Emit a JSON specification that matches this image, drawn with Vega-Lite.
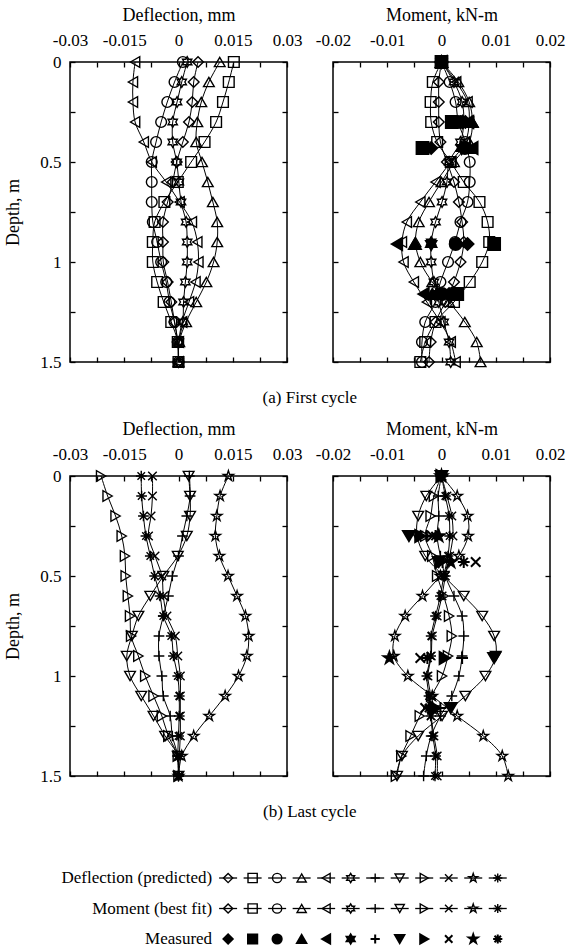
{
"$schema": "https://vega.github.io/schema/vega-lite/v6.json",
"padding": {"left": 4, "top": 5, "right": 2, "bottom": 1},
"background": "white",
"config": {
  "view": {"stroke": "black", "strokeWidth": 1.5},
  "font": "Liberation Serif, Times New Roman, Times, DejaVu Serif, serif",
  "text": {"font": "Liberation Serif, Times New Roman, Times, DejaVu Serif, serif"},
  "axis": {"domain": false, "grid": false, "tickSize": -5, "tickColor": "black", "tickWidth": 1.3, "labelFlush": false, "labelOverlap": false, "labelFont": "Liberation Serif, Times New Roman, Times, DejaVu Serif, serif", "titleFont": "Liberation Serif, Times New Roman, Times, DejaVu Serif, serif", "labelFontSize": 17, "titleFontSize": 18, "titleFontWeight": "normal", "labelColor": "black", "titleColor": "black"},
  "title": {"font": "Liberation Serif, Times New Roman, Times, DejaVu Serif, serif", "fontSize": 17, "fontWeight": "normal", "color": "black"}
},
"datasets": {
"defl1": [
{"s":"D","d":0,"v":0.0054},{"s":"D","d":0.1,"v":0.0042},{"s":"D","d":0.2,"v":0.0038},{"s":"D","d":0.3,"v":0.0029},{"s":"D","d":0.4,"v":0.0012},{"s":"D","d":0.5,"v":-0.0005},{"s":"D","d":0.6,"v":-0.0016},{"s":"D","d":0.7,"v":-0.003},{"s":"D","d":0.8,"v":-0.0043},{"s":"D","d":0.9,"v":-0.0043},{"s":"D","d":1,"v":-0.0042},{"s":"D","d":1.1,"v":-0.003},{"s":"D","d":1.2,"v":-0.002},{"s":"D","d":1.3,"v":-0.0011},{"s":"D","d":1.4,"v":-0.0002},{"s":"D","d":1.5,"v":0},
{"s":"S","d":0,"v":0.0153},{"s":"S","d":0.1,"v":0.0139},{"s":"S","d":0.2,"v":0.0123},{"s":"S","d":0.3,"v":0.0104},{"s":"S","d":0.4,"v":0.0072},{"s":"S","d":0.5,"v":0.0035},{"s":"S","d":0.6,"v":-0.0002},{"s":"S","d":0.7,"v":-0.0039},{"s":"S","d":0.8,"v":-0.0066},{"s":"S","d":0.9,"v":-0.0071},{"s":"S","d":1,"v":-0.0071},{"s":"S","d":1.1,"v":-0.0059},{"s":"S","d":1.2,"v":-0.0041},{"s":"S","d":1.3,"v":-0.002},{"s":"S","d":1.4,"v":-0.0002},{"s":"S","d":1.5,"v":0},
{"s":"C","d":0,"v":0.0012},{"s":"C","d":0.1,"v":-0.0011},{"s":"C","d":0.2,"v":-0.0031},{"s":"C","d":0.3,"v":-0.0048},{"s":"C","d":0.4,"v":-0.0062},{"s":"C","d":0.5,"v":-0.0074},{"s":"C","d":0.6,"v":-0.0074},{"s":"C","d":0.7,"v":-0.0074},{"s":"C","d":0.8,"v":-0.0071},{"s":"C","d":0.9,"v":-0.0059},{"s":"C","d":1,"v":-0.0048},{"s":"C","d":1.1,"v":-0.0034},{"s":"C","d":1.2,"v":-0.0025},{"s":"C","d":1.3,"v":-0.0011},{"s":"C","d":1.4,"v":-0.0002},{"s":"C","d":1.5,"v":0},
{"s":"T","d":0,"v":0.0114},{"s":"T","d":0.1,"v":0.0084},{"s":"T","d":0.2,"v":0.0063},{"s":"T","d":0.3,"v":0.0052},{"s":"T","d":0.4,"v":0.0049},{"s":"T","d":0.5,"v":0.0065},{"s":"T","d":0.6,"v":0.0081},{"s":"T","d":0.7,"v":0.0095},{"s":"T","d":0.8,"v":0.0107},{"s":"T","d":0.9,"v":0.0107},{"s":"T","d":1,"v":0.0097},{"s":"T","d":1.1,"v":0.0077},{"s":"T","d":1.2,"v":0.0049},{"s":"T","d":1.3,"v":0.0021},{"s":"T","d":1.4,"v":0.0002},{"s":"T","d":1.5,"v":0},
{"s":"L","d":0,"v":-0.012},{"s":"L","d":0.1,"v":-0.0126},{"s":"L","d":0.2,"v":-0.0126},{"s":"L","d":0.3,"v":-0.012},{"s":"L","d":0.4,"v":-0.0096},{"s":"L","d":0.5,"v":-0.0074},{"s":"L","d":0.6,"v":-0.0034},{"s":"L","d":0.7,"v":0.0003},{"s":"L","d":0.8,"v":0.0037},{"s":"L","d":0.9,"v":0.0052},{"s":"L","d":1,"v":0.0055},{"s":"L","d":1.1,"v":0.0047},{"s":"L","d":1.2,"v":0.0029},{"s":"L","d":1.3,"v":0.001},{"s":"L","d":1.4,"v":0.0001},{"s":"L","d":1.5,"v":0},
{"s":"H","d":0,"v":0.0024},{"s":"H","d":0.1,"v":0.0009},{"s":"H","d":0.2,"v":-0.0004},{"s":"H","d":0.3,"v":-0.0016},{"s":"H","d":0.4,"v":-0.0016},{"s":"H","d":0.5,"v":-0.0005},{"s":"H","d":0.6,"v":0.0001},{"s":"H","d":0.7,"v":0.0007},{"s":"H","d":0.8,"v":0.0021},{"s":"H","d":0.9,"v":0.0024},{"s":"H","d":1,"v":0.0024},{"s":"H","d":1.1,"v":0.0019},{"s":"H","d":1.2,"v":0.0014},{"s":"H","d":1.3,"v":0.0012},{"s":"H","d":1.4,"v":0.0001},{"s":"H","d":1.5,"v":0}
],
"mom1": [
{"s":"S","d":0,"v":0},{"s":"S","d":0.1,"v":-0.0016},{"s":"S","d":0.2,"v":-0.002},{"s":"S","d":0.3,"v":-0.0019},{"s":"S","d":0.4,"v":-0.0008},{"s":"S","d":0.5,"v":0.0017},{"s":"S","d":0.6,"v":0.0041},{"s":"S","d":0.7,"v":0.007},{"s":"S","d":0.8,"v":0.0085},{"s":"S","d":0.9,"v":0.0088},{"s":"S","d":1,"v":0.0075},{"s":"S","d":1.1,"v":0.0052},{"s":"S","d":1.2,"v":0.0023},{"s":"S","d":1.3,"v":-0.0011},{"s":"S","d":1.4,"v":-0.003},{"s":"S","d":1.5,"v":-0.0039},
{"s":"D","d":0,"v":0},{"s":"D","d":0.1,"v":-0.0005},{"s":"D","d":0.2,"v":-0.0005},{"s":"D","d":0.3,"v":-0.0005},{"s":"D","d":0.4,"v":-0.0002},{"s":"D","d":0.5,"v":0.001},{"s":"D","d":0.6,"v":0.0023},{"s":"D","d":0.7,"v":0.0032},{"s":"D","d":0.8,"v":0.0038},{"s":"D","d":0.9,"v":0.0041},{"s":"D","d":1,"v":0.0035},{"s":"D","d":1.1,"v":0.0023},{"s":"D","d":1.2,"v":0.0007},{"s":"D","d":1.3,"v":-0.0011},{"s":"D","d":1.4,"v":-0.002},{"s":"D","d":1.5,"v":-0.0023},
{"s":"C","d":0,"v":0},{"s":"C","d":0.1,"v":0.0015},{"s":"C","d":0.2,"v":0.0026},{"s":"C","d":0.3,"v":0.0031},{"s":"C","d":0.4,"v":0.0044},{"s":"C","d":0.5,"v":0.0052},{"s":"C","d":0.6,"v":0.0052},{"s":"C","d":0.7,"v":0.0048},{"s":"C","d":0.8,"v":0.0035},{"s":"C","d":0.9,"v":0.0025},{"s":"C","d":1,"v":0.0012},{"s":"C","d":1.1,"v":-0.0002},{"s":"C","d":1.2,"v":-0.0011},{"s":"C","d":1.3,"v":-0.003},{"s":"C","d":1.4,"v":-0.0036},{"s":"C","d":1.5,"v":-0.0036},
{"s":"T","d":0,"v":0},{"s":"T","d":0.1,"v":0.0031},{"s":"T","d":0.2,"v":0.0051},{"s":"T","d":0.3,"v":0.0057},{"s":"T","d":0.4,"v":0.0051},{"s":"T","d":0.5,"v":0.0023},{"s":"T","d":0.6,"v":0},{"s":"T","d":0.7,"v":-0.0023},{"s":"T","d":0.8,"v":-0.0042},{"s":"T","d":0.9,"v":-0.0048},{"s":"T","d":1,"v":-0.0039},{"s":"T","d":1.1,"v":-0.0017},{"s":"T","d":1.2,"v":0.0014},{"s":"T","d":1.3,"v":0.0043},{"s":"T","d":1.4,"v":0.0065},{"s":"T","d":1.5,"v":0.0072},
{"s":"L","d":0,"v":0},{"s":"L","d":0.1,"v":0.0027},{"s":"L","d":0.2,"v":0.0048},{"s":"L","d":0.3,"v":0.0051},{"s":"L","d":0.4,"v":0.0044},{"s":"L","d":0.5,"v":0.0017},{"s":"L","d":0.6,"v":-0.0011},{"s":"L","d":0.7,"v":-0.0039},{"s":"L","d":0.8,"v":-0.0064},{"s":"L","d":0.9,"v":-0.0073},{"s":"L","d":1,"v":-0.007},{"s":"L","d":1.1,"v":-0.0051},{"s":"L","d":1.2,"v":-0.0027},{"s":"L","d":1.3,"v":-0.0002},{"s":"L","d":1.4,"v":0.0017},{"s":"L","d":1.5,"v":0.0026},
{"s":"H","d":0,"v":0},{"s":"H","d":0.1,"v":0.0023},{"s":"H","d":0.2,"v":0.0038},{"s":"H","d":0.3,"v":0.0041},{"s":"H","d":0.4,"v":0.0035},{"s":"H","d":0.5,"v":0.0014},{"s":"H","d":0.6,"v":0.001},{"s":"H","d":0.7,"v":0.0001},{"s":"H","d":0.8,"v":-0.0011},{"s":"H","d":0.9,"v":-0.0019},{"s":"H","d":1,"v":-0.0019},{"s":"H","d":1.1,"v":-0.0014},{"s":"H","d":1.2,"v":-0.0005},{"s":"H","d":1.3,"v":0.0004},{"s":"H","d":1.4,"v":0.0014},{"s":"H","d":1.5,"v":0.0017}
],
"meas1": [
{"s":"S","d":0,"v":0},{"s":"S","d":0.3,"v":0.0019},{"s":"S","d":0.43,"v":-0.0035},{"s":"S","d":0.91,"v":0.0097},{"s":"S","d":1.16,"v":0.0029},
{"s":"D","d":0,"v":0},{"s":"D","d":0.3,"v":0.0044},{"s":"D","d":0.43,"v":-0.0019},{"s":"D","d":0.91,"v":0.0048},{"s":"D","d":1.16,"v":0.0014},
{"s":"C","d":0,"v":0},{"s":"C","d":0.3,"v":0.0035},{"s":"C","d":0.43,"v":0.0043},{"s":"C","d":0.91,"v":0.0026},{"s":"C","d":1.16,"v":0.0001},
{"s":"T","d":0,"v":0},{"s":"T","d":0.3,"v":0.0056},{"s":"T","d":0.43,"v":0.0052},{"s":"T","d":0.91,"v":-0.0049},{"s":"T","d":1.16,"v":-0.0017},
{"s":"L","d":0,"v":0},{"s":"L","d":0.3,"v":0.0049},{"s":"L","d":0.43,"v":0.0057},{"s":"L","d":0.91,"v":-0.0082},{"s":"L","d":1.16,"v":-0.0033},
{"s":"H","d":0,"v":0},{"s":"H","d":0.3,"v":0.0039},{"s":"H","d":0.43,"v":0.0037},{"s":"H","d":0.91,"v":-0.0019},{"s":"H","d":1.16,"v":-0.0008}
],
"defl2": [
{"s":"P","d":0,"v":0.003},{"s":"P","d":0.1,"v":0.0032},{"s":"P","d":0.2,"v":0.0023},{"s":"P","d":0.3,"v":0.0011},{"s":"P","d":0.4,"v":0},{"s":"P","d":0.5,"v":-0.0017},{"s":"P","d":0.6,"v":-0.0028},{"s":"P","d":0.7,"v":-0.0042},{"s":"P","d":0.8,"v":-0.0054},{"s":"P","d":0.9,"v":-0.0054},{"s":"P","d":1,"v":-0.0046},{"s":"P","d":1.1,"v":-0.0042},{"s":"P","d":1.2,"v":-0.0023},{"s":"P","d":1.3,"v":-0.0017},{"s":"P","d":1.4,"v":-0.0002},{"s":"P","d":1.5,"v":0},
{"s":"V","d":0,"v":0.0028},{"s":"V","d":0.1,"v":0.0032},{"s":"V","d":0.2,"v":0.0032},{"s":"V","d":0.3,"v":0.0023},{"s":"V","d":0.4,"v":-0.0002},{"s":"V","d":0.5,"v":-0.0042},{"s":"V","d":0.6,"v":-0.0078},{"s":"V","d":0.7,"v":-0.0111},{"s":"V","d":0.8,"v":-0.0129},{"s":"V","d":0.9,"v":-0.0143},{"s":"V","d":1,"v":-0.0134},{"s":"V","d":1.1,"v":-0.0103},{"s":"V","d":1.2,"v":-0.0069},{"s":"V","d":1.3,"v":-0.0037},{"s":"V","d":1.4,"v":-0.0002},{"s":"V","d":1.5,"v":0},
{"s":"R","d":0,"v":-0.0214},{"s":"R","d":0.1,"v":-0.0196},{"s":"R","d":0.2,"v":-0.0174},{"s":"R","d":0.3,"v":-0.0157},{"s":"R","d":0.4,"v":-0.0148},{"s":"R","d":0.5,"v":-0.0146},{"s":"R","d":0.6,"v":-0.014},{"s":"R","d":0.7,"v":-0.0134},{"s":"R","d":0.8,"v":-0.0131},{"s":"R","d":0.9,"v":-0.0111},{"s":"R","d":1,"v":-0.0092},{"s":"R","d":1.1,"v":-0.0069},{"s":"R","d":1.2,"v":-0.0046},{"s":"R","d":1.3,"v":-0.0028},{"s":"R","d":1.4,"v":-0.0002},{"s":"R","d":1.5,"v":0},
{"s":"X","d":0,"v":-0.0072},{"s":"X","d":0.1,"v":-0.0072},{"s":"X","d":0.2,"v":-0.0076},{"s":"X","d":0.3,"v":-0.0083},{"s":"X","d":0.4,"v":-0.0065},{"s":"X","d":0.5,"v":-0.0046},{"s":"X","d":0.6,"v":-0.0042},{"s":"X","d":0.7,"v":-0.0032},{"s":"X","d":0.8,"v":-0.0009},{"s":"X","d":0.9,"v":-0.0002},{"s":"X","d":1,"v":0.0005},{"s":"X","d":1.1,"v":0.0005},{"s":"X","d":1.2,"v":0.0005},{"s":"X","d":1.3,"v":0.0005},{"s":"X","d":1.4,"v":0.0002},{"s":"X","d":1.5,"v":0},
{"s":"A","d":0,"v":-0.0103},{"s":"A","d":0.1,"v":-0.0102},{"s":"A","d":0.2,"v":-0.0097},{"s":"A","d":0.3,"v":-0.009},{"s":"A","d":0.4,"v":-0.0078},{"s":"A","d":0.5,"v":-0.0066},{"s":"A","d":0.6,"v":-0.0051},{"s":"A","d":0.7,"v":-0.0042},{"s":"A","d":0.8,"v":-0.002},{"s":"A","d":0.9,"v":-0.0014},{"s":"A","d":1,"v":-0.0002},{"s":"A","d":1.1,"v":0.0002},{"s":"A","d":1.2,"v":0.0002},{"s":"A","d":1.3,"v":0},{"s":"A","d":1.4,"v":-0.0002},{"s":"A","d":1.5,"v":0},
{"s":"St","d":0,"v":0.0138},{"s":"St","d":0.1,"v":0.0115},{"s":"St","d":0.2,"v":0.0106},{"s":"St","d":0.3,"v":0.0102},{"s":"St","d":0.4,"v":0.0113},{"s":"St","d":0.5,"v":0.0137},{"s":"St","d":0.6,"v":0.0162},{"s":"St","d":0.7,"v":0.0185},{"s":"St","d":0.8,"v":0.0194},{"s":"St","d":0.9,"v":0.0189},{"s":"St","d":1,"v":0.0166},{"s":"St","d":1.1,"v":0.0129},{"s":"St","d":1.2,"v":0.0085},{"s":"St","d":1.3,"v":0.0042},{"s":"St","d":1.4,"v":0.0009},{"s":"St","d":1.5,"v":0}
],
"mom2": [
{"s":"P","d":0,"v":0},{"s":"P","d":0.1,"v":-0.0006},{"s":"P","d":0.2,"v":-0.0005},{"s":"P","d":0.3,"v":-0.0008},{"s":"P","d":0.4,"v":-0.0002},{"s":"P","d":0.5,"v":0.0007},{"s":"P","d":0.6,"v":0.0023},{"s":"P","d":0.7,"v":0.0038},{"s":"P","d":0.8,"v":0.0041},{"s":"P","d":0.9,"v":0.0038},{"s":"P","d":1,"v":0.0032},{"s":"P","d":1.1,"v":0.0019},{"s":"P","d":1.2,"v":-0.0002},{"s":"P","d":1.3,"v":-0.0019},{"s":"P","d":1.4,"v":-0.0028},{"s":"P","d":1.5,"v":-0.0033},
{"s":"V","d":0,"v":0},{"s":"V","d":0.1,"v":-0.0028},{"s":"V","d":0.2,"v":-0.0043},{"s":"V","d":0.3,"v":-0.0045},{"s":"V","d":0.4,"v":-0.003},{"s":"V","d":0.5,"v":0.0004},{"s":"V","d":0.6,"v":0.0041},{"s":"V","d":0.7,"v":0.0075},{"s":"V","d":0.8,"v":0.0097},{"s":"V","d":0.9,"v":0.01},{"s":"V","d":1,"v":0.0081},{"s":"V","d":1.1,"v":0.0044},{"s":"V","d":1.2,"v":0.0001},{"s":"V","d":1.3,"v":-0.0043},{"s":"V","d":1.4,"v":-0.0073},{"s":"V","d":1.5,"v":-0.0082},
{"s":"R","d":0,"v":0},{"s":"R","d":0.1,"v":-0.0014},{"s":"R","d":0.2,"v":-0.002},{"s":"R","d":0.3,"v":-0.003},{"s":"R","d":0.4,"v":-0.0017},{"s":"R","d":0.5,"v":-0.0008},{"s":"R","d":0.6,"v":0.0004},{"s":"R","d":0.7,"v":0.0014},{"s":"R","d":0.8,"v":0.0019},{"s":"R","d":0.9,"v":0.0012},{"s":"R","d":1,"v":0.0001},{"s":"R","d":1.1,"v":-0.0019},{"s":"R","d":1.2,"v":-0.004},{"s":"R","d":1.3,"v":-0.0057},{"s":"R","d":1.4,"v":-0.0074},{"s":"R","d":1.5,"v":-0.0084},
{"s":"X","d":0,"v":0},{"s":"X","d":0.1,"v":0.001},{"s":"X","d":0.2,"v":0.0019},{"s":"X","d":0.3,"v":0.0021},{"s":"X","d":0.4,"v":0.0015},{"s":"X","d":0.5,"v":0.0007},{"s":"X","d":0.6,"v":0.0001},{"s":"X","d":0.7,"v":-0.0008},{"s":"X","d":0.8,"v":-0.0017},{"s":"X","d":0.9,"v":-0.0019},{"s":"X","d":1,"v":-0.0025},{"s":"X","d":1.1,"v":-0.002},{"s":"X","d":1.2,"v":-0.0019},{"s":"X","d":1.3,"v":-0.0014},{"s":"X","d":1.4,"v":-0.0008},{"s":"X","d":1.5,"v":-0.0008},
{"s":"A","d":0,"v":0},{"s":"A","d":0.1,"v":0.0007},{"s":"A","d":0.2,"v":0.0014},{"s":"A","d":0.3,"v":0.0015},{"s":"A","d":0.4,"v":0.0012},{"s":"A","d":0.5,"v":0.0004},{"s":"A","d":0.6,"v":-0.0002},{"s":"A","d":0.7,"v":-0.0011},{"s":"A","d":0.8,"v":-0.0019},{"s":"A","d":0.9,"v":-0.002},{"s":"A","d":1,"v":-0.0027},{"s":"A","d":1.1,"v":-0.0023},{"s":"A","d":1.2,"v":-0.002},{"s":"A","d":1.3,"v":-0.0016},{"s":"A","d":1.4,"v":-0.0011},{"s":"A","d":1.5,"v":-0.0012},
{"s":"St","d":0,"v":0},{"s":"St","d":0.1,"v":0.0029},{"s":"St","d":0.2,"v":0.0048},{"s":"St","d":0.3,"v":0.0049},{"s":"St","d":0.4,"v":0.0032},{"s":"St","d":0.5,"v":-0.0002},{"s":"St","d":0.6,"v":-0.0035},{"s":"St","d":0.7,"v":-0.0067},{"s":"St","d":0.8,"v":-0.0086},{"s":"St","d":0.9,"v":-0.0088},{"s":"St","d":1,"v":-0.0062},{"s":"St","d":1.1,"v":-0.0017},{"s":"St","d":1.2,"v":0.0029},{"s":"St","d":1.3,"v":0.0077},{"s":"St","d":1.4,"v":0.0112},{"s":"St","d":1.5,"v":0.0123}
],
"meas2": [
{"s":"V","d":0,"v":0},{"s":"V","d":0.3,"v":-0.006},{"s":"V","d":0.43,"v":-0.0005},{"s":"V","d":0.91,"v":0.0097},{"s":"V","d":1.16,"v":0.0017},
{"s":"R","d":0,"v":0},{"s":"R","d":0.3,"v":-0.0039},{"s":"R","d":0.43,"v":-0.0002},{"s":"R","d":0.91,"v":0.0006},{"s":"R","d":1.16,"v":-0.0011},
{"s":"P","d":0,"v":0},{"s":"P","d":0.3,"v":-0.0027},{"s":"P","d":0.43,"v":0.0002},{"s":"P","d":0.91,"v":0.0038},{"s":"P","d":1.16,"v":-0.0002},
{"s":"X","d":0,"v":0},{"s":"X","d":0.3,"v":-0.0017},{"s":"X","d":0.43,"v":0.0063},{"s":"X","d":0.91,"v":-0.0039},{"s":"X","d":1.16,"v":-0.003},
{"s":"A","d":0,"v":0},{"s":"A","d":0.3,"v":-0.0011},{"s":"A","d":0.43,"v":0.0041},{"s":"A","d":0.91,"v":-0.0026},{"s":"A","d":1.16,"v":-0.0023},
{"s":"St","d":0,"v":0},{"s":"St","d":0.3,"v":-0.0005},{"s":"St","d":0.43,"v":0.0017},{"s":"St","d":0.91,"v":-0.0096},{"s":"St","d":1.16,"v":-0.0017}
],
"legend": [
{"row":"Deflection (predicted)","s":"D"},{"row":"Deflection (predicted)","s":"S"},{"row":"Deflection (predicted)","s":"C"},{"row":"Deflection (predicted)","s":"T"},{"row":"Deflection (predicted)","s":"L"},{"row":"Deflection (predicted)","s":"H"},{"row":"Deflection (predicted)","s":"P"},{"row":"Deflection (predicted)","s":"V"},{"row":"Deflection (predicted)","s":"R"},{"row":"Deflection (predicted)","s":"X"},{"row":"Deflection (predicted)","s":"St"},{"row":"Deflection (predicted)","s":"A"},
{"row":"Moment (best fit)","s":"D"},{"row":"Moment (best fit)","s":"S"},{"row":"Moment (best fit)","s":"C"},{"row":"Moment (best fit)","s":"T"},{"row":"Moment (best fit)","s":"L"},{"row":"Moment (best fit)","s":"H"},{"row":"Moment (best fit)","s":"P"},{"row":"Moment (best fit)","s":"V"},{"row":"Moment (best fit)","s":"R"},{"row":"Moment (best fit)","s":"X"},{"row":"Moment (best fit)","s":"St"},{"row":"Moment (best fit)","s":"A"},
{"row":"Measured","s":"D"},{"row":"Measured","s":"S"},{"row":"Measured","s":"C"},{"row":"Measured","s":"T"},{"row":"Measured","s":"L"},{"row":"Measured","s":"H"},{"row":"Measured","s":"P"},{"row":"Measured","s":"V"},{"row":"Measured","s":"R"},{"row":"Measured","s":"X"},{"row":"Measured","s":"St"},{"row":"Measured","s":"A"}
]
},
"spacing": 13,
"vconcat": [
{
 "bounds": "flush",
 "spacing": 46,
 "title": {"text": "(a) First cycle", "orient": "bottom", "anchor": "middle", "frame": "bounds", "offset": 19, "dx": 25},
 "hconcat": [
  {
   "width": 217, "height": 300,
   "layer": [
    {"mark": {"type": "rule", "strokeDash": [9, 6], "color": "#444", "strokeWidth": 1.2}, "encoding": {"y": {"datum": 0.3, "type": "quantitative", "scale": {"domain": [0, 1.5], "reverse": true, "nice": false, "zero": false}, "axis": null}}},
    {"data": {"name": "defl1"}, "mark": {"type": "line", "color": "black", "strokeWidth": 1, "interpolate": "catmull-rom"},
     "encoding": {
      "x": {"field": "v", "type": "quantitative", "scale": {"domain": [-0.03, 0.03], "nice": false, "zero": false}, "axis": {"orient": "top", "title": "Deflection, mm", "values": [-0.03, -0.0225, -0.015, -0.0075, 0, 0.0075, 0.015, 0.0225, 0.03], "labelExpr": "indexof([-0.03, -0.015, 0, 0.015, 0.03], datum.value) >= 0 ? toString(datum.value) : ''", "labelPadding": 18, "titlePadding": 7}},
      "y": {"field": "d", "type": "quantitative", "scale": {"domain": [0, 1.5], "reverse": true, "nice": false, "zero": false}, "axis": {"orient": "left", "title": "Depth, m", "values": [0, 0.25, 0.5, 0.75, 1, 1.25, 1.5], "labelExpr": "indexof([0, 0.5, 1, 1.5], datum.value) >= 0 ? toString(datum.value) : ''", "labelPadding": 14, "titlePadding": 17}},
      "detail": {"field": "s"},
      "order": {"field": "d"}}},
    {"data": {"name": "defl1"}, "mark": {"type": "point", "filled": false, "color": "black", "strokeWidth": 1.4, "size": 115, "opacity": 1},
     "encoding": {
      "x": {"field": "v", "type": "quantitative", "scale": {"domain": [-0.03, 0.03], "nice": false, "zero": false}, "axis": {"orient": "bottom", "title": null, "labels": false, "values": [-0.03, -0.0225, -0.015, -0.0075, 0, 0.0075, 0.015, 0.0225, 0.03]}},
      "y": {"field": "d", "type": "quantitative", "scale": {"domain": [0, 1.5], "reverse": true, "nice": false, "zero": false}, "axis": {"orient": "right", "title": null, "labels": false, "values": [0, 0.25, 0.5, 0.75, 1, 1.25, 1.5]}},
      "shape": {"field": "s", "type": "nominal", "legend": null, "scale": {"domain": ["D","S","C","T","L","H","P","V","R","X","St","A"], "range": ["diamond","square","circle","triangle-up","triangle-left","M0,-1L0.289,-0.5L0.866,-0.5L0.577,0L0.866,0.5L0.289,0.5L0,1L-0.289,0.5L-0.866,0.5L-0.577,0L-0.866,-0.5L-0.289,-0.5Z","M-1,0L1,0M0,-1L0,1","triangle-down","triangle-right","M-0.8,-0.8L0.8,0.8M-0.8,0.8L0.8,-0.8","M0,-1L0.2245,-0.309L0.951,-0.309L0.363,0.118L0.588,0.809L0,0.382L-0.588,0.809L-0.363,0.118L-0.951,-0.309L-0.2245,-0.309Z","M0,-1L0,1M-1,0L1,0M-0.7,-0.7L0.7,0.7M-0.7,0.7L0.7,-0.7"]}}}},
    {"mark": {"type": "text", "align": "left", "baseline": "middle", "dx": 6, "dy": 1, "fontSize": 15, "lineHeight": 16.5, "color": "black"},
     "encoding": {"x": {"datum": -0.03, "type": "quantitative", "scale": {"domain": [-0.03, 0.03], "nice": false, "zero": false}, "axis": null}, "y": {"datum": 0.3, "type": "quantitative", "scale": {"domain": [0, 1.5], "reverse": true, "nice": false, "zero": false}, "axis": null}, "text": {"value": ["Sand", "Layer"]}}}
   ],
   "resolve": {"axis": {"x": "independent", "y": "independent"}}
  },
  {
   "width": 217, "height": 300,
   "layer": [
    {"mark": {"type": "rule", "strokeDash": [9, 6], "color": "#444", "strokeWidth": 1.2}, "encoding": {"y": {"datum": 0.3, "type": "quantitative", "scale": {"domain": [0, 1.5], "reverse": true, "nice": false, "zero": false}, "axis": null}}},
    {"data": {"name": "mom1"}, "mark": {"type": "line", "color": "black", "strokeWidth": 1, "interpolate": "catmull-rom"},
     "encoding": {
      "x": {"field": "v", "type": "quantitative", "scale": {"domain": [-0.02, 0.02], "nice": false, "zero": false}, "axis": {"orient": "top", "title": "Moment, kN-m", "values": [-0.02, -0.015, -0.01, -0.005, 0, 0.005, 0.01, 0.015, 0.02], "labelExpr": "indexof([-0.02, -0.01, 0, 0.01, 0.02], datum.value) >= 0 ? toString(datum.value) : ''", "labelPadding": 18, "titlePadding": 7}},
      "y": {"field": "d", "type": "quantitative", "scale": {"domain": [0, 1.5], "reverse": true, "nice": false, "zero": false}, "axis": {"orient": "left", "title": null, "labels": false, "values": [0, 0.25, 0.5, 0.75, 1, 1.25, 1.5]}},
      "detail": {"field": "s"},
      "order": {"field": "d"}}},
    {"data": {"name": "mom1"}, "mark": {"type": "point", "filled": false, "color": "black", "strokeWidth": 1.4, "size": 115, "opacity": 1},
     "encoding": {
      "x": {"field": "v", "type": "quantitative", "scale": {"domain": [-0.02, 0.02], "nice": false, "zero": false}, "axis": {"orient": "bottom", "title": null, "labels": false, "values": [-0.02, -0.015, -0.01, -0.005, 0, 0.005, 0.01, 0.015, 0.02]}},
      "y": {"field": "d", "type": "quantitative", "scale": {"domain": [0, 1.5], "reverse": true, "nice": false, "zero": false}, "axis": {"orient": "right", "title": null, "labels": false, "values": [0, 0.25, 0.5, 0.75, 1, 1.25, 1.5]}},
      "shape": {"field": "s", "type": "nominal", "legend": null, "scale": {"domain": ["D","S","C","T","L","H","P","V","R","X","St","A"], "range": ["diamond","square","circle","triangle-up","triangle-left","M0,-1L0.289,-0.5L0.866,-0.5L0.577,0L0.866,0.5L0.289,0.5L0,1L-0.289,0.5L-0.866,0.5L-0.577,0L-0.866,-0.5L-0.289,-0.5Z","M-1,0L1,0M0,-1L0,1","triangle-down","triangle-right","M-0.8,-0.8L0.8,0.8M-0.8,0.8L0.8,-0.8","M0,-1L0.2245,-0.309L0.951,-0.309L0.363,0.118L0.588,0.809L0,0.382L-0.588,0.809L-0.363,0.118L-0.951,-0.309L-0.2245,-0.309Z","M0,-1L0,1M-1,0L1,0M-0.7,-0.7L0.7,0.7M-0.7,0.7L0.7,-0.7"]}}}},
    {"data": {"name": "meas1"}, "mark": {"type": "point", "filled": true, "fill": "black", "stroke": "black", "strokeWidth": 2, "size": 140, "opacity": 1},
     "encoding": {
      "x": {"field": "v", "type": "quantitative", "scale": {"domain": [-0.02, 0.02], "nice": false, "zero": false}, "axis": null},
      "y": {"field": "d", "type": "quantitative", "scale": {"domain": [0, 1.5], "reverse": true, "nice": false, "zero": false}, "axis": null},
      "shape": {"field": "s", "type": "nominal", "legend": null, "scale": {"domain": ["D","S","C","T","L","H","P","V","R","X","St","A"], "range": ["diamond","square","circle","triangle-up","triangle-left","M0,-1L0.289,-0.5L0.866,-0.5L0.577,0L0.866,0.5L0.289,0.5L0,1L-0.289,0.5L-0.866,0.5L-0.577,0L-0.866,-0.5L-0.289,-0.5Z","M-1,0L1,0M0,-1L0,1","triangle-down","triangle-right","M-0.8,-0.8L0.8,0.8M-0.8,0.8L0.8,-0.8","M0,-1L0.2245,-0.309L0.951,-0.309L0.363,0.118L0.588,0.809L0,0.382L-0.588,0.809L-0.363,0.118L-0.951,-0.309L-0.2245,-0.309Z","M0,-1L0,1M-1,0L1,0M-0.7,-0.7L0.7,0.7M-0.7,0.7L0.7,-0.7"]}}}}
   ],
   "resolve": {"axis": {"x": "independent", "y": "independent"}}
  }
 ]
},
{
 "bounds": "flush",
 "spacing": 46,
 "title": {"text": "(b) Last cycle", "orient": "bottom", "anchor": "middle", "frame": "bounds", "offset": 19, "dx": 25},
 "hconcat": [
  {
   "width": 217, "height": 300,
   "layer": [
    {"mark": {"type": "rule", "strokeDash": [9, 6], "color": "#444", "strokeWidth": 1.2}, "encoding": {"y": {"datum": 0.3, "type": "quantitative", "scale": {"domain": [0, 1.5], "reverse": true, "nice": false, "zero": false}, "axis": null}}},
    {"data": {"name": "defl2"}, "mark": {"type": "line", "color": "black", "strokeWidth": 1, "interpolate": "catmull-rom"},
     "encoding": {
      "x": {"field": "v", "type": "quantitative", "scale": {"domain": [-0.03, 0.03], "nice": false, "zero": false}, "axis": {"orient": "top", "title": "Deflection, mm", "values": [-0.03, -0.0225, -0.015, -0.0075, 0, 0.0075, 0.015, 0.0225, 0.03], "labelExpr": "indexof([-0.03, -0.015, 0, 0.015, 0.03], datum.value) >= 0 ? toString(datum.value) : ''", "labelPadding": 18, "titlePadding": 7}},
      "y": {"field": "d", "type": "quantitative", "scale": {"domain": [0, 1.5], "reverse": true, "nice": false, "zero": false}, "axis": {"orient": "left", "title": "Depth, m", "values": [0, 0.25, 0.5, 0.75, 1, 1.25, 1.5], "labelExpr": "indexof([0, 0.5, 1, 1.5], datum.value) >= 0 ? toString(datum.value) : ''", "labelPadding": 14, "titlePadding": 17}},
      "detail": {"field": "s"},
      "order": {"field": "d"}}},
    {"data": {"name": "defl2"}, "mark": {"type": "point", "filled": false, "color": "black", "strokeWidth": 1.4, "size": 115, "opacity": 1},
     "encoding": {
      "x": {"field": "v", "type": "quantitative", "scale": {"domain": [-0.03, 0.03], "nice": false, "zero": false}, "axis": {"orient": "bottom", "title": null, "labels": false, "values": [-0.03, -0.0225, -0.015, -0.0075, 0, 0.0075, 0.015, 0.0225, 0.03]}},
      "y": {"field": "d", "type": "quantitative", "scale": {"domain": [0, 1.5], "reverse": true, "nice": false, "zero": false}, "axis": {"orient": "right", "title": null, "labels": false, "values": [0, 0.25, 0.5, 0.75, 1, 1.25, 1.5]}},
      "shape": {"field": "s", "type": "nominal", "legend": null, "scale": {"domain": ["D","S","C","T","L","H","P","V","R","X","St","A"], "range": ["diamond","square","circle","triangle-up","triangle-left","M0,-1L0.289,-0.5L0.866,-0.5L0.577,0L0.866,0.5L0.289,0.5L0,1L-0.289,0.5L-0.866,0.5L-0.577,0L-0.866,-0.5L-0.289,-0.5Z","M-1,0L1,0M0,-1L0,1","triangle-down","triangle-right","M-0.8,-0.8L0.8,0.8M-0.8,0.8L0.8,-0.8","M0,-1L0.2245,-0.309L0.951,-0.309L0.363,0.118L0.588,0.809L0,0.382L-0.588,0.809L-0.363,0.118L-0.951,-0.309L-0.2245,-0.309Z","M0,-1L0,1M-1,0L1,0M-0.7,-0.7L0.7,0.7M-0.7,0.7L0.7,-0.7"]}}}},
    {"mark": {"type": "text", "align": "left", "baseline": "middle", "dx": 6, "dy": 1, "fontSize": 15, "lineHeight": 16.5, "color": "black"},
     "encoding": {"x": {"datum": -0.03, "type": "quantitative", "scale": {"domain": [-0.03, 0.03], "nice": false, "zero": false}, "axis": null}, "y": {"datum": 0.3, "type": "quantitative", "scale": {"domain": [0, 1.5], "reverse": true, "nice": false, "zero": false}, "axis": null}, "text": {"value": ["Sand", "Layer"]}}}
   ],
   "resolve": {"axis": {"x": "independent", "y": "independent"}}
  },
  {
   "width": 217, "height": 300,
   "layer": [
    {"mark": {"type": "rule", "strokeDash": [9, 6], "color": "#444", "strokeWidth": 1.2}, "encoding": {"y": {"datum": 0.3, "type": "quantitative", "scale": {"domain": [0, 1.5], "reverse": true, "nice": false, "zero": false}, "axis": null}}},
    {"data": {"name": "mom2"}, "mark": {"type": "line", "color": "black", "strokeWidth": 1, "interpolate": "catmull-rom"},
     "encoding": {
      "x": {"field": "v", "type": "quantitative", "scale": {"domain": [-0.02, 0.02], "nice": false, "zero": false}, "axis": {"orient": "top", "title": "Moment, kN-m", "values": [-0.02, -0.015, -0.01, -0.005, 0, 0.005, 0.01, 0.015, 0.02], "labelExpr": "indexof([-0.02, -0.01, 0, 0.01, 0.02], datum.value) >= 0 ? toString(datum.value) : ''", "labelPadding": 18, "titlePadding": 7}},
      "y": {"field": "d", "type": "quantitative", "scale": {"domain": [0, 1.5], "reverse": true, "nice": false, "zero": false}, "axis": {"orient": "left", "title": null, "labels": false, "values": [0, 0.25, 0.5, 0.75, 1, 1.25, 1.5]}},
      "detail": {"field": "s"},
      "order": {"field": "d"}}},
    {"data": {"name": "mom2"}, "mark": {"type": "point", "filled": false, "color": "black", "strokeWidth": 1.4, "size": 115, "opacity": 1},
     "encoding": {
      "x": {"field": "v", "type": "quantitative", "scale": {"domain": [-0.02, 0.02], "nice": false, "zero": false}, "axis": {"orient": "bottom", "title": null, "labels": false, "values": [-0.02, -0.015, -0.01, -0.005, 0, 0.005, 0.01, 0.015, 0.02]}},
      "y": {"field": "d", "type": "quantitative", "scale": {"domain": [0, 1.5], "reverse": true, "nice": false, "zero": false}, "axis": {"orient": "right", "title": null, "labels": false, "values": [0, 0.25, 0.5, 0.75, 1, 1.25, 1.5]}},
      "shape": {"field": "s", "type": "nominal", "legend": null, "scale": {"domain": ["D","S","C","T","L","H","P","V","R","X","St","A"], "range": ["diamond","square","circle","triangle-up","triangle-left","M0,-1L0.289,-0.5L0.866,-0.5L0.577,0L0.866,0.5L0.289,0.5L0,1L-0.289,0.5L-0.866,0.5L-0.577,0L-0.866,-0.5L-0.289,-0.5Z","M-1,0L1,0M0,-1L0,1","triangle-down","triangle-right","M-0.8,-0.8L0.8,0.8M-0.8,0.8L0.8,-0.8","M0,-1L0.2245,-0.309L0.951,-0.309L0.363,0.118L0.588,0.809L0,0.382L-0.588,0.809L-0.363,0.118L-0.951,-0.309L-0.2245,-0.309Z","M0,-1L0,1M-1,0L1,0M-0.7,-0.7L0.7,0.7M-0.7,0.7L0.7,-0.7"]}}}},
    {"data": {"name": "meas2"}, "mark": {"type": "point", "filled": true, "fill": "black", "stroke": "black", "strokeWidth": 2, "size": 140, "opacity": 1},
     "encoding": {
      "x": {"field": "v", "type": "quantitative", "scale": {"domain": [-0.02, 0.02], "nice": false, "zero": false}, "axis": null},
      "y": {"field": "d", "type": "quantitative", "scale": {"domain": [0, 1.5], "reverse": true, "nice": false, "zero": false}, "axis": null},
      "shape": {"field": "s", "type": "nominal", "legend": null, "scale": {"domain": ["D","S","C","T","L","H","P","V","R","X","St","A"], "range": ["diamond","square","circle","triangle-up","triangle-left","M0,-1L0.289,-0.5L0.866,-0.5L0.577,0L0.866,0.5L0.289,0.5L0,1L-0.289,0.5L-0.866,0.5L-0.577,0L-0.866,-0.5L-0.289,-0.5Z","M-1,0L1,0M0,-1L0,1","triangle-down","triangle-right","M-0.8,-0.8L0.8,0.8M-0.8,0.8L0.8,-0.8","M0,-1L0.2245,-0.309L0.951,-0.309L0.363,0.118L0.588,0.809L0,0.382L-0.588,0.809L-0.363,0.118L-0.951,-0.309L-0.2245,-0.309Z","M0,-1L0,1M-1,0L1,0M-0.7,-0.7L0.7,0.7M-0.7,0.7L0.7,-0.7"]}}}}
   ],
   "resolve": {"axis": {"x": "independent", "y": "independent"}}
  }
 ]
},
{
 "width": 440, "height": 106,
 "data": {"name": "legend"},
 "transform": [{"window": [{"op": "row_number", "as": "k"}], "groupby": ["row"]}],
 "view": {"stroke": null},
 "layer": [
  {"transform": [{"filter": "datum.row != 'Measured'"}], "mark": {"type": "rule", "color": "black", "strokeWidth": 1.3, "xOffset": -9, "x2Offset": 9},
   "encoding": {"x": {"field": "k", "type": "quantitative", "scale": {"domain": [-5.45, 12.5], "nice": false, "zero": false}, "axis": null}, "x2": {"field": "k"}, "y": {"field": "row", "type": "nominal", "scale": {"type": "point", "domain": ["Deflection (predicted)", "Moment (best fit)", "Measured"], "padding": 0.738, "align": 1}, "axis": null}}},
  {"transform": [{"filter": "datum.row != 'Measured'"}], "mark": {"type": "point", "filled": false, "color": "black", "strokeWidth": 1.4, "size": 85, "opacity": 1},
   "encoding": {"x": {"field": "k", "type": "quantitative", "scale": {"domain": [-5.45, 12.5], "nice": false, "zero": false}, "axis": null}, "y": {"field": "row", "type": "nominal", "scale": {"type": "point", "domain": ["Deflection (predicted)", "Moment (best fit)", "Measured"], "padding": 0.738, "align": 1}, "axis": null},
    "shape": {"field": "s", "type": "nominal", "legend": null, "scale": {"domain": ["D","S","C","T","L","H","P","V","R","X","St","A"], "range": ["diamond","square","circle","triangle-up","triangle-left","M0,-1L0.289,-0.5L0.866,-0.5L0.577,0L0.866,0.5L0.289,0.5L0,1L-0.289,0.5L-0.866,0.5L-0.577,0L-0.866,-0.5L-0.289,-0.5Z","M-1,0L1,0M0,-1L0,1","triangle-down","triangle-right","M-0.8,-0.8L0.8,0.8M-0.8,0.8L0.8,-0.8","M0,-1L0.2245,-0.309L0.951,-0.309L0.363,0.118L0.588,0.809L0,0.382L-0.588,0.809L-0.363,0.118L-0.951,-0.309L-0.2245,-0.309Z","M0,-1L0,1M-1,0L1,0M-0.7,-0.7L0.7,0.7M-0.7,0.7L0.7,-0.7"]}}}},
  {"transform": [{"filter": "datum.row == 'Measured'"}], "mark": {"type": "point", "filled": true, "fill": "black", "stroke": "black", "strokeWidth": 2, "size": 85, "opacity": 1},
   "encoding": {"x": {"field": "k", "type": "quantitative", "scale": {"domain": [-5.45, 12.5], "nice": false, "zero": false}, "axis": null}, "y": {"field": "row", "type": "nominal", "scale": {"type": "point", "domain": ["Deflection (predicted)", "Moment (best fit)", "Measured"], "padding": 0.738, "align": 1}, "axis": null},
    "shape": {"field": "s", "type": "nominal", "legend": null, "scale": {"domain": ["D","S","C","T","L","H","P","V","R","X","St","A"], "range": ["diamond","square","circle","triangle-up","triangle-left","M0,-1L0.289,-0.5L0.866,-0.5L0.577,0L0.866,0.5L0.289,0.5L0,1L-0.289,0.5L-0.866,0.5L-0.577,0L-0.866,-0.5L-0.289,-0.5Z","M-1,0L1,0M0,-1L0,1","triangle-down","triangle-right","M-0.8,-0.8L0.8,0.8M-0.8,0.8L0.8,-0.8","M0,-1L0.2245,-0.309L0.951,-0.309L0.363,0.118L0.588,0.809L0,0.382L-0.588,0.809L-0.363,0.118L-0.951,-0.309L-0.2245,-0.309Z","M0,-1L0,1M-1,0L1,0M-0.7,-0.7L0.7,0.7M-0.7,0.7L0.7,-0.7"]}}}},
  {"transform": [{"filter": "datum.s == 'D'"}], "mark": {"type": "text", "align": "right", "baseline": "middle", "dx": -16, "fontSize": 17, "color": "black"},
   "encoding": {"x": {"field": "k", "type": "quantitative", "scale": {"domain": [-5.45, 12.5], "nice": false, "zero": false}, "axis": null}, "y": {"field": "row", "type": "nominal", "scale": {"type": "point", "domain": ["Deflection (predicted)", "Moment (best fit)", "Measured"], "padding": 0.738, "align": 1}, "axis": null}, "text": {"field": "row"}}}
 ]
}
]
}
